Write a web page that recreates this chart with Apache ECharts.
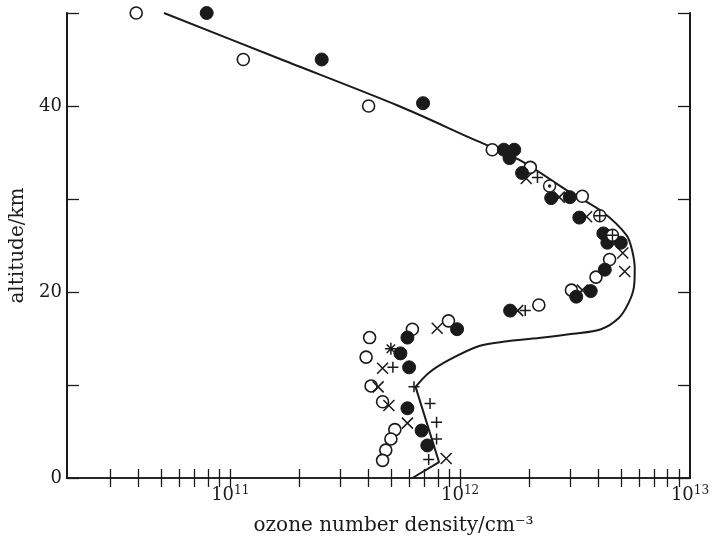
<!DOCTYPE html>
<html>
<head>
<meta charset="utf-8">
<script src="https://cdn.jsdelivr.net/npm/echarts@6/dist/echarts.min.js"></script>
<style>
html, body { margin: 0; padding: 0; background: #fff; }
#chart { width: 716px; height: 544px; }
</style>
</head>
<body>
<div id="chart"></div>
<script>
// ozone profile: [density (cm^-3), altitude (km)]
var curveUpper = [
  [5.15e10, 50], [1.67e11, 45], [5.42e11, 40], [1.1e12, 36.6], [1.81e12, 34.2],
  [2.99e12, 30.75], [4.17e12, 28.6], [5.3e12, 26.1], [5.6e12, 24.5], [5.75e12, 22.5],
  [5.7e12, 20.5], [5.4e12, 18.8], [4.9e12, 17.2], [4.1e12, 16.0], [3.1e12, 15.5],
  [2.3e12, 15.1], [1.6e12, 14.7], [1.21e12, 14.2], [8.95e11, 12.7], [7.3e11, 11.3],
  [6.4e11, 9.8]
];
var curveLower = [[6.4e11, 9.8], [8.1e11, 1.7], [6.2e11, 0]];

var openCircles = [
  [3.9e10, 50], [1.14e11, 45], [4.0e11, 40], [1.38e12, 35.3], [2.02e12, 33.4],
  [3.4e12, 30.3], [4.47e12, 23.5], [3.9e12, 21.6], [3.05e12, 20.2], [2.2e12, 18.6],
  [8.9e11, 16.9], [6.2e11, 16.0], [4.04e11, 15.1], [3.9e11, 13.0], [4.1e11, 9.9],
  [4.6e11, 8.2], [5.2e11, 5.2], [5.0e11, 4.2], [4.75e11, 3.0], [4.6e11, 1.9]
];
var filledCircles = [
  [7.9e10, 50], [2.5e11, 45], [6.9e11, 40.3], [1.55e12, 35.3], [1.72e12, 35.3],
  [1.64e12, 34.4], [1.86e12, 32.8], [2.49e12, 30.1], [3.0e12, 30.2], [3.3e12, 28.0],
  [4.2e12, 26.3], [4.37e12, 25.3], [5.0e12, 25.3], [4.26e12, 22.4], [3.7e12, 20.1],
  [3.2e12, 19.5], [1.65e12, 18.0], [9.7e11, 16.0], [5.9e11, 15.1], [5.5e11, 13.4],
  [6.0e11, 11.9], [5.9e11, 7.5], [6.8e11, 5.1], [7.2e11, 3.5]
];
var crosses = [
  [1.94e12, 32.2], [2.7e12, 30.2], [3.55e12, 28.1], [5.1e12, 24.2], [5.2e12, 22.2],
  [3.4e12, 20.2], [1.78e12, 18.0], [7.95e11, 16.1], [4.6e11, 11.8], [4.4e11, 9.8],
  [4.9e11, 7.8], [5.9e11, 5.9], [8.7e11, 2.1]
];
var pluses = [
  [2.17e12, 32.3], [1.92e12, 18.0], [5.1e11, 11.9], [6.3e11, 9.8], [7.4e11, 8.0],
  [7.9e11, 6.0], [7.9e11, 4.2], [7.3e11, 2.0]
];
var dotCircles = [[2.45e12, 31.4]];
var plusCircles = [[4.05e12, 28.2], [4.6e12, 26.1]];
var stars = [[5.0e11, 13.9]];

var xMajor = [1e11, 1e12, 1e13];
var xTicks = [];
[1e10, 1e11, 1e12].forEach(function (d) {
  for (var k = 1; k <= 9; k++) {
    if (d * k > 2.5e10) xTicks.push(d * k);
  }
});
var yLabels = [0, 20, 40];

var ink = '#1a1a1a';
var serif = 'DejaVu Serif';

var chart = echarts.init(document.getElementById('chart'));

function xAxisDef(pos, showLabel) {
  return {
    type: 'log',
    logBase: 10,
    position: pos,
    min: 1.95e10,
    max: 1e13,
    axisLine: { show: true, lineStyle: { color: ink, width: 1.5 } },
    axisTick: { show: true, inside: true, length: 9, customValues: xTicks, lineStyle: { color: ink, width: 1.3 } },
    axisLabel: {
      show: showLabel,
      customValues: xMajor,
      margin: 7,
      formatter: function (v) {
        return '{b|10}{s|' + Math.round(Math.log10(v)) + '}';
      },
      rich: {
        b: { fontFamily: serif, fontSize: 18, color: ink },
        s: { fontFamily: serif, fontSize: 12, color: ink, padding: [0, 0, 9, 0] }
      }
    },
    splitLine: { show: false },
    name: showLabel ? 'ozone number density/cm\u207B\u00B3' : '',
    nameLocation: 'middle',
    nameGap: 38,
    nameTextStyle: { fontFamily: serif, fontSize: 20, color: ink, padding: [0, 0, 0, 30] }
  };
}

function yAxisDef(pos, showLabel) {
  return {
    type: 'value',
    position: pos,
    min: 0,
    max: 50,
    interval: 10,
    axisLine: { show: true, lineStyle: { color: ink, width: 2 } },
    axisTick: { show: true, inside: true, length: 12, lineStyle: { color: ink, width: 1.3 } },
    axisLabel: {
      show: showLabel,
      fontFamily: serif,
      fontSize: 18,
      color: ink,
      margin: 5,
      formatter: function (v) { return yLabels.indexOf(v) >= 0 ? String(v) : ''; }
    },
    splitLine: { show: false },
    name: showLabel ? 'altitude/km' : '',
    nameLocation: 'middle',
    nameGap: 24,
    nameTextStyle: { fontFamily: serif, fontSize: 20, color: ink }
  };
}

function markers(data, symbol, size, filled, bw) {
  return {
    type: 'scatter',
    data: data,
    symbol: symbol,
    symbolSize: size,
    z: 3,
    itemStyle: {
      color: filled ? ink : '#fff',
      borderColor: ink,
      borderWidth: bw,
      opacity: 1
    }
  };
}

var crossPath = 'path://M0,0L10,10M10,0L0,10';
var plusPath = 'path://M5,0L5,10M0,5L10,5';
var starPath = 'path://M5,0L5,10M0,5L10,5M1.5,1.5L8.5,8.5M8.5,1.5L1.5,8.5';
var dotCirclePath = 'path://M10,5A5,5,0,1,1,0,5A5,5,0,1,1,10,5ZM5.8,5A0.8,0.8,0,1,1,4.2,5A0.8,0.8,0,1,1,5.8,5Z';
var plusCirclePath = 'path://M10,5A5,5,0,1,1,0,5A5,5,0,1,1,10,5ZM5,0L5,10M0,5L10,5';

chart.setOption({
  animation: false,
  backgroundColor: '#fff',
  grid: { left: 67, right: 26, top: 13, bottom: 66 },
  xAxis: [xAxisDef('bottom', true), xAxisDef('top', false)],
  yAxis: [yAxisDef('left', true), yAxisDef('right', false)],
  series: [
    {
      type: 'line',
      data: curveUpper,
      smooth: 0.3,
      symbol: 'none',
      z: 2,
      lineStyle: { color: ink, width: 2 }
    },
    {
      type: 'line',
      data: curveLower,
      symbol: 'none',
      z: 2,
      lineStyle: { color: ink, width: 2 }
    },
    markers(openCircles, 'circle', 12, false, 1.6),
    markers(filledCircles, 'circle', 13, true, 1),
    markers(crosses, crossPath, 11, false, 1.5),
    markers(pluses, plusPath, 11, false, 1.5),
    markers(dotCircles, dotCirclePath, 12, false, 1.4),
    markers(plusCircles, plusCirclePath, 12, false, 1.4),
    markers(stars, starPath, 12, false, 1.5)
  ]
});
</script>
</body>
</html>
